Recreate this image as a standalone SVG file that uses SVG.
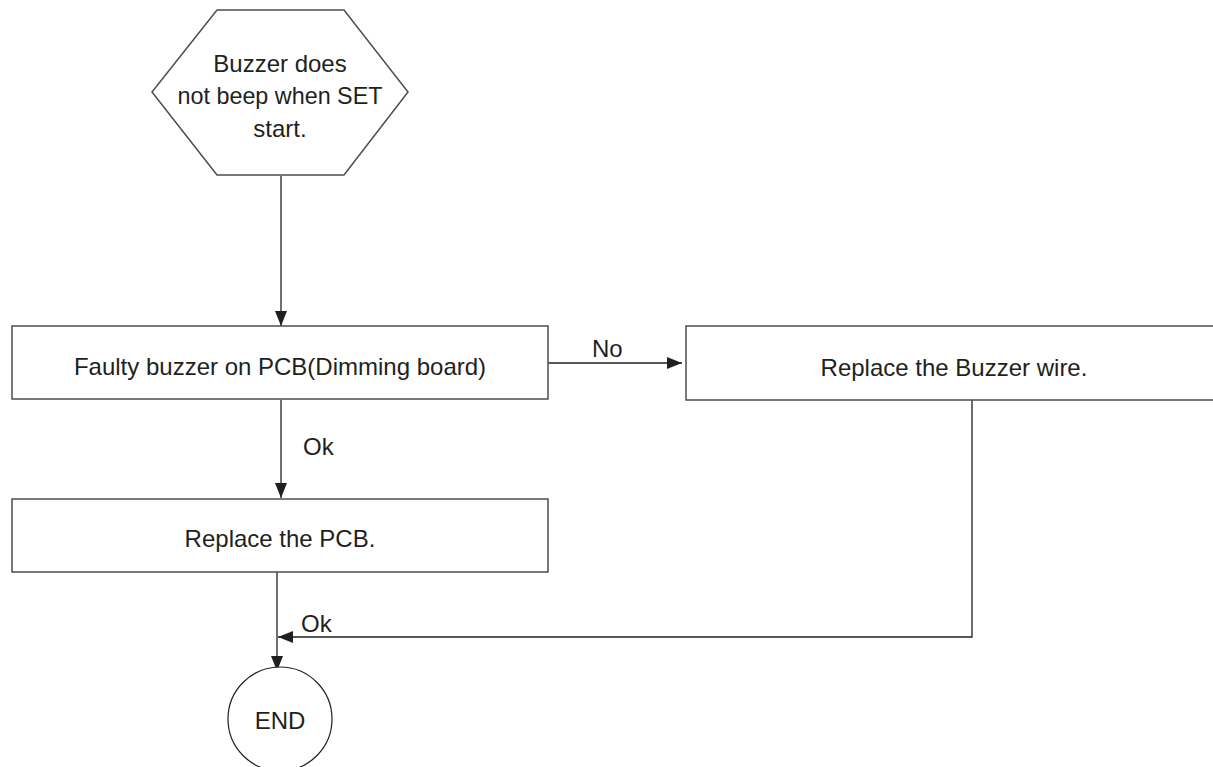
<svg xmlns="http://www.w3.org/2000/svg" width="1213" height="767" viewBox="0 0 1213 767">
<defs>
<marker id="arr" viewBox="0 0 15 12" refX="15" refY="6" markerWidth="15" markerHeight="12" markerUnits="userSpaceOnUse" orient="auto">
<path d="M0,0 L15,6 L0,12 Z" fill="#231f20"/>
</marker>
<style>
.node{fill:#fff;stroke:#4d4d4d;stroke-width:1.5}
.t{font-family:"Liberation Sans",Arial,sans-serif;font-size:24px;fill:#231f20;text-anchor:middle}
.lbl{font-family:"Liberation Sans",Arial,sans-serif;font-size:24px;fill:#231f20}
.c{fill:none;stroke:#231f20;stroke-width:1.3}
</style>
</defs>
<rect width="1213" height="767" fill="#fff"/>
<g id="connectors">
<line class="c" x1="281" y1="176" x2="281" y2="326" marker-end="url(#arr)"/>
<line class="c" x1="548" y1="363" x2="682" y2="363" marker-end="url(#arr)"/>
<text class="lbl" x="592" y="357">No</text>
<line class="c" x1="281" y1="400" x2="281" y2="498" marker-end="url(#arr)"/>
<text class="lbl" x="303" y="455">Ok</text>
<line class="c" x1="277" y1="572" x2="277" y2="671" marker-end="url(#arr)"/>
<polyline class="c" points="972,400 972,637 278,637" marker-end="url(#arr)"/>
<text class="lbl" x="301" y="632">Ok</text>
</g>
<g id="start">
<polygon class="node" points="217,10 344,10 408,92 344,175 217,175 152,92"/>
<text class="t" x="280" y="72">Buzzer does</text>
<text class="t" x="280" y="104" textLength="205" lengthAdjust="spacingAndGlyphs">not beep when SET</text>
<text class="t" x="280" y="137">start.</text>
</g>
<g id="faulty">
<rect class="node" x="12" y="326" width="536" height="73"/>
<text class="t" x="280" y="375">Faulty buzzer on PCB(Dimming board)</text>
</g>
<g id="wire">
<rect class="node" x="686" y="326" width="530" height="74"/>
<text class="t" x="954" y="376">Replace the Buzzer wire.</text>
</g>
<g id="pcb">
<rect class="node" x="12" y="499" width="536" height="73"/>
<text class="t" x="280" y="547">Replace the PCB.</text>
</g>
<g id="end">
<circle class="node" cx="280" cy="719" r="52" style="stroke:#231f20;stroke-width:1.2"/>
<text class="t" x="280" y="729">END</text>
</g>
</svg>
